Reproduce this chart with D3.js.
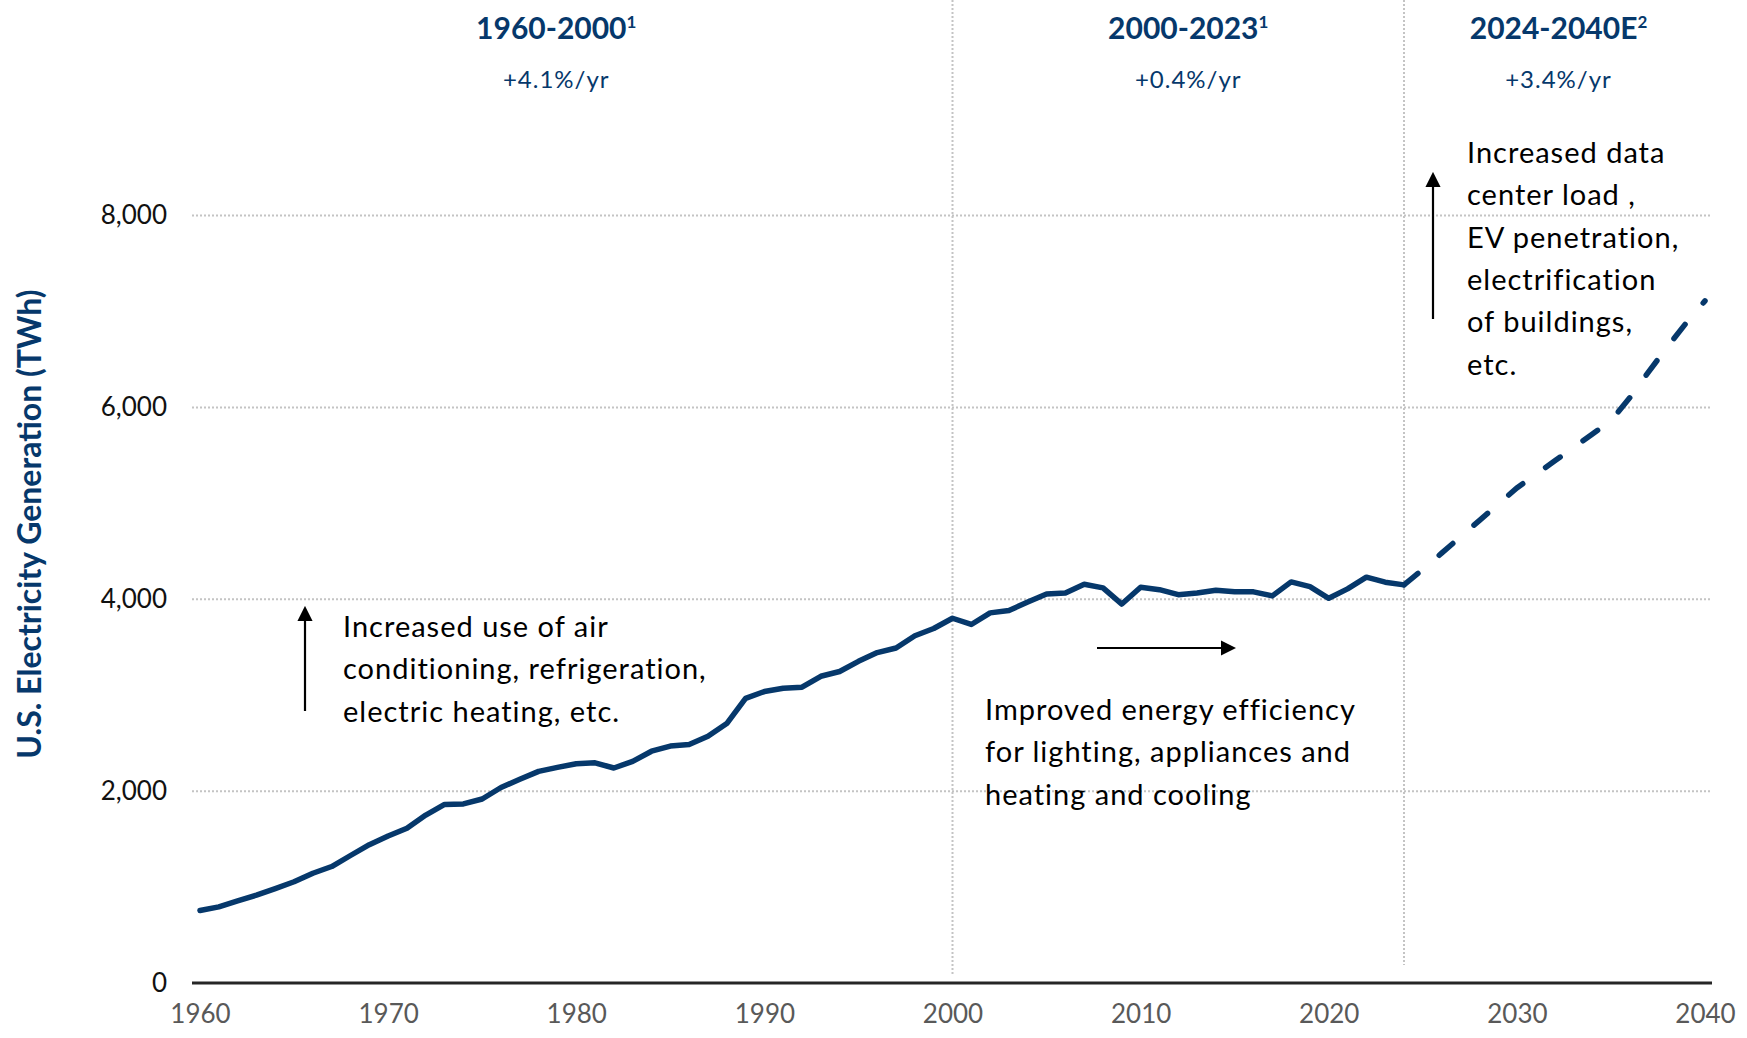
<!DOCTYPE html>
<html>
<head>
<meta charset="utf-8">
<script src="https://cdn.jsdelivr.net/npm/d3@7/dist/d3.min.js"></script>
<style>
  body { margin: 0; background: #ffffff; }
  text { font-family: Lato, "Open Sans", sans-serif; }
</style>
</head>
<body>
<script>
// Historical generation (TWh)
var actualYears = [1960, 1961, 1962, 1963, 1964, 1965, 1966, 1967, 1968, 1969,
  1970, 1971, 1972, 1973, 1974, 1975, 1976, 1977, 1978, 1979,
  1980, 1981, 1982, 1983, 1984, 1985, 1986, 1987, 1988, 1989,
  1990, 1991, 1992, 1993, 1994, 1995, 1996, 1997, 1998, 1999,
  2000, 2001, 2002, 2003, 2004, 2005, 2006, 2007, 2008, 2009,
  2010, 2011, 2012, 2013, 2014, 2015, 2016, 2017, 2018, 2019,
  2020, 2021, 2022, 2023, 2024];
var actualTwh = [755, 794, 856, 916, 984, 1055, 1144, 1214, 1329, 1442,
  1532, 1613, 1750, 1861, 1867, 1918, 2038, 2124, 2206, 2247,
  2286, 2295, 2241, 2310, 2416, 2470, 2487, 2572, 2704, 2967,
  3038, 3073, 3083, 3197, 3247, 3353, 3444, 3492, 3620, 3695,
  3802, 3737, 3858, 3883, 3971, 4055, 4065, 4157, 4119, 3950,
  4125, 4100, 4048, 4066, 4094, 4078, 4077, 4035, 4181, 4131,
  4010, 4108, 4230, 4178, 4150];

// Projection (TWh)
var forecastYears = [2024, 2025, 2026, 2027, 2028, 2029, 2030, 2031, 2032,
  2033, 2034, 2035, 2036, 2037, 2038, 2039, 2040];
var forecastTwh = [4150, 4310, 4480, 4650, 4820, 4990, 5160, 5300, 5440,
  5580, 5720, 5860, 6100, 6370, 6630, 6880, 7110];

// Axis ticks
var xTicks = [1960, 1970, 1980, 1990, 2000, 2010, 2020, 2030, 2040];
var yTicks = [0, 2000, 4000, 6000, 8000];

// Period headers
var periodStart = [1960, 2000, 2024];
var periodEnd = [2000, 2024, 2040];
var periodLabel = ["1960-2000", "2000-2023", "2024-2040E"];
var periodNote = ["1", "1", "2"];
var periodRate = ["+4.1%/yr", "+0.4%/yr", "+3.4%/yr"];
var periodSplits = [2000, 2024];

// Annotation text
var noteLeft = ["Increased use of air", "conditioning, refrigeration,", "electric heating, etc."];
var noteMiddle = ["Improved energy efficiency", "for lighting, appliances and", "heating and cooling"];
var noteRight = ["Increased data", "center load ,", "EV penetration,", "electrification", "of buildings,", "etc."];

var svgWidth = 1747;
var svgHeight = 1038;
var navy = "#06386b";

var svg = d3.select("body")
  .append("svg")
  .attr("width", svgWidth)
  .attr("height", svgHeight);

var x = d3.scaleLinear().domain([1960, 2040]).range([200, 1705]);
var y = d3.scaleLinear().domain([0, 8000]).range([983, 215.5]);

// arrow head marker
svg.append("defs").append("marker")
  .attr("id", "head")
  .attr("viewBox", "0 0 10 10")
  .attr("refX", 8)
  .attr("refY", 5)
  .attr("markerWidth", 7)
  .attr("markerHeight", 7)
  .attr("markerUnits", "strokeWidth")
  .attr("orient", "auto")
  .append("path")
  .attr("d", "M0,0 L10,5 L0,10 Z")
  .attr("fill", "#000");

// horizontal dotted grid
svg.append("g")
  .selectAll("line")
  .data(yTicks.filter(d => d > 0))
  .enter()
  .append("line")
  .attr("x1", 192)
  .attr("x2", 1712)
  .attr("y1", d => y(d))
  .attr("y2", d => y(d))
  .attr("stroke", "#c4c4c4")
  .attr("stroke-width", 2)
  .attr("stroke-dasharray", "2,2");

// period separators
svg.append("g")
  .selectAll("line")
  .data(periodSplits)
  .enter()
  .append("line")
  .attr("x1", d => x(d))
  .attr("x2", d => x(d))
  .attr("y1", 0)
  .attr("y2", (d, i) => i == 0 ? 975 : 965)
  .attr("stroke", "#c4c4c4")
  .attr("stroke-width", 2)
  .attr("stroke-dasharray", "2,2");

// x axis
var bottomAxis = d3.axisBottom(x)
  .tickValues(xTicks)
  .tickFormat(d3.format("d"))
  .tickSize(0)
  .tickPadding(22);

var xAxis = svg.append("g")
  .attr("transform", `translate(0, ${y(0)})`)
  .call(bottomAxis);
xAxis.select(".domain").remove();
xAxis.selectAll("text")
  .attr("fill", "#595959")
  .style("font-size", "26px")
  .style("font-family", "Lato");

svg.append("line")
  .attr("x1", 192)
  .attr("x2", 1712)
  .attr("y1", y(0))
  .attr("y2", y(0))
  .attr("stroke", "#262626")
  .attr("stroke-width", 3);

// y axis labels
var leftAxis = d3.axisLeft(y)
  .tickValues(yTicks)
  .tickFormat(d3.format(","))
  .tickSize(0)
  .tickPadding(0);

var yAxis = svg.append("g")
  .attr("transform", "translate(167, 0)")
  .call(leftAxis);
yAxis.select(".domain").remove();
yAxis.selectAll("text")
  .attr("fill", "#111")
  .style("font-size", "26px")
  .style("font-family", "Lato");

// y axis title
svg.append("text")
  .attr("transform", "translate(41, 524) rotate(-90)")
  .attr("text-anchor", "middle")
  .attr("fill", navy)
  .style("font-size", "32px")
  .style("font-weight", "bold")
  .text("U.S. Electricity Generation (TWh)");

// lines
var line = d3.line()
  .x(d => x(d[0]))
  .y(d => y(d[1]));

svg.append("path")
  .datum(actualYears.map((yr, i) => [yr, actualTwh[i]]))
  .attr("d", line)
  .attr("fill", "none")
  .attr("stroke", navy)
  .attr("stroke-width", 5.5)
  .attr("stroke-linejoin", "round")
  .attr("stroke-linecap", "round");

svg.append("path")
  .datum(forecastYears.map((yr, i) => [yr, forecastTwh[i]]))
  .attr("d", line)
  .attr("fill", "none")
  .attr("stroke", navy)
  .attr("stroke-width", 5.5)
  .attr("stroke-linecap", "round")
  .attr("stroke-dasharray", "18,28");

// period headers
var headerShift = [-20, 10, 4];
var headers = svg.append("g")
  .selectAll("g")
  .data(periodLabel)
  .enter()
  .append("g")
  .attr("transform", (d, i) => `translate(${(x(periodStart[i]) + x(periodEnd[i])) / 2 + headerShift[i]}, 0)`);

var title = headers.append("text")
  .attr("y", 39)
  .attr("text-anchor", "middle")
  .attr("fill", navy)
  .style("font-size", "30px")
  .style("font-weight", "bold");
title.append("tspan").text(d => d);
title.append("tspan")
  .attr("dy", -11)
  .style("font-size", "17px")
  .text((d, i) => periodNote[i]);

headers.append("text")
  .attr("y", 88)
  .attr("text-anchor", "middle")
  .attr("fill", navy)
  .style("font-size", "24px")
  .style("letter-spacing", "1px")
  .text((d, i) => periodRate[i]);

// annotation blocks
function note(lines, left, firstBaseline) {
  svg.append("g")
    .selectAll("text")
    .data(lines)
    .enter()
    .append("text")
    .attr("x", left)
    .attr("y", (d, i) => firstBaseline + i * 42.3)
    .attr("fill", "#000")
    .style("font-size", "29px")
    .style("letter-spacing", "1px")
    .text(d => d);
}
note(noteLeft, 343, 637);
note(noteMiddle, 985, 720);
note(noteRight, 1467, 163);

function arrow(x1, y1, x2, y2) {
  svg.append("line")
    .attr("x1", x1).attr("y1", y1)
    .attr("x2", x2).attr("y2", y2)
    .attr("stroke", "#000")
    .attr("stroke-width", 2.2)
    .attr("marker-end", "url(#head)");
}
arrow(305, 711, 305, 609);
arrow(1097, 648, 1233, 648);
arrow(1433, 319, 1433, 175);
</script>
</body>
</html>
